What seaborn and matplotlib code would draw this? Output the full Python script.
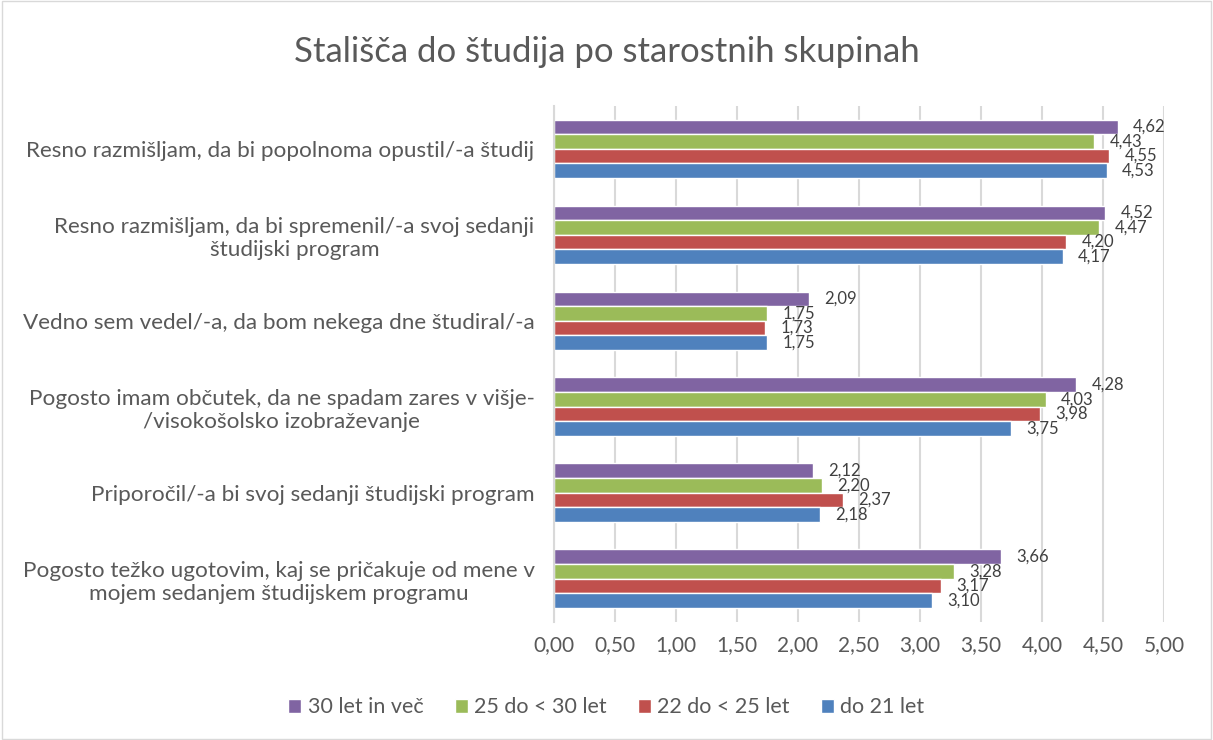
import pandas as pd
import seaborn as sns
import matplotlib.pyplot as plt
from matplotlib.patches import Rectangle

statements = [
    "Resno razmišljam, da bi popolnoma opustil/-a študij",
    "Resno razmišljam, da bi spremenil/-a svoj sedanji\nštudijski program",
    "Vedno sem vedel/-a, da bom nekega dne študiral/-a",
    "Pogosto imam občutek, da ne spadam zares v višje-\n/visokošolsko izobraževanje",
    "Priporočil/-a bi svoj sedanji študijski program",
    "Pogosto težko ugotovim, kaj se pričakuje od mene v\nmojem sedanjem študijskem programu",
]
groups = ["30 let in več", "25 do < 30 let", "22 do < 25 let", "do 21 let"]
colors = ["#8064A2", "#9BBB59", "#C0504D", "#4F81BD"]

v_30plus = [4.62, 4.52, 2.09, 4.28, 2.12, 3.66]
v_25_30 = [4.43, 4.47, 1.75, 4.03, 2.20, 3.28]
v_22_25 = [4.55, 4.20, 1.73, 3.98, 2.37, 3.17]
v_do21 = [4.53, 4.17, 1.75, 3.75, 2.18, 3.10]

rows = []
for g, vals in zip(groups, [v_30plus, v_25_30, v_22_25, v_do21]):
    for s, v in zip(statements, vals):
        rows.append({"trditev": s, "skupina": g, "vrednost": v})
df = pd.DataFrame(rows)

sns.set_style("white")
plt.rcParams['font.family'] = ['Lato', 'DejaVu Sans']

fig = plt.figure(figsize=(12.13, 7.40), dpi=100)
ax = fig.add_axes([0.4567, 0.16, 0.5029, 0.697])

sns.barplot(data=df, x="vrednost", y="trditev", hue="skupina",
            hue_order=groups, order=statements, palette=colors,
            orient="h", width=0.68, saturation=1, ax=ax, legend=True)

for cont in ax.containers:
    labels = [f"{b.get_width():.2f}".replace(".", ",") for b in cont]
    ax.bar_label(cont, labels=labels, padding=11, fontsize=12, color="#404040")

ax.set_xlim(0, 5)
ax.set_xticks([i * 0.5 for i in range(11)])
ax.set_xticklabels([f"{i * 0.5:.2f}".replace(".", ",") for i in range(11)])
ax.tick_params(axis="x", labelsize=15, colors="#595959", length=0, pad=10)
ax.tick_params(axis="y", labelsize=16.2, colors="#595959", length=0, pad=14)
for t in ax.get_yticklabels():
    t.set_multialignment("center")
ax.set_xlabel("")
ax.set_ylabel("")
ax.grid(axis="x", color="#D9D9D9", linewidth=1.5)
ax.set_axisbelow(True)
for side in ["top", "right", "bottom"]:
    ax.spines[side].set_visible(False)
ax.spines["left"].set_color("#D9D9D9")
ax.spines["left"].set_linewidth(1.5)

handles, labs = ax.get_legend_handles_labels()
ax.legend_.remove()
fig.legend(handles, labs, loc="center", bbox_to_anchor=(0.5, 0.044), ncol=4,
           frameon=False, fontsize=15.5, labelcolor="#595959",
           handlelength=0.6, handleheight=0.6, handletextpad=0.3, columnspacing=1.45)

fig.text(0.5, 0.93, "Stališča do študija po starostnih skupinah", ha="center",
         va="center", fontsize=25, color="#595959")

fig.patches.append(Rectangle((0.002, 0.002), 0.996, 0.996, transform=fig.transFigure,
                             fill=False, edgecolor="#D9D9D9", linewidth=1))

fig.savefig("out.png", dpi=100)
